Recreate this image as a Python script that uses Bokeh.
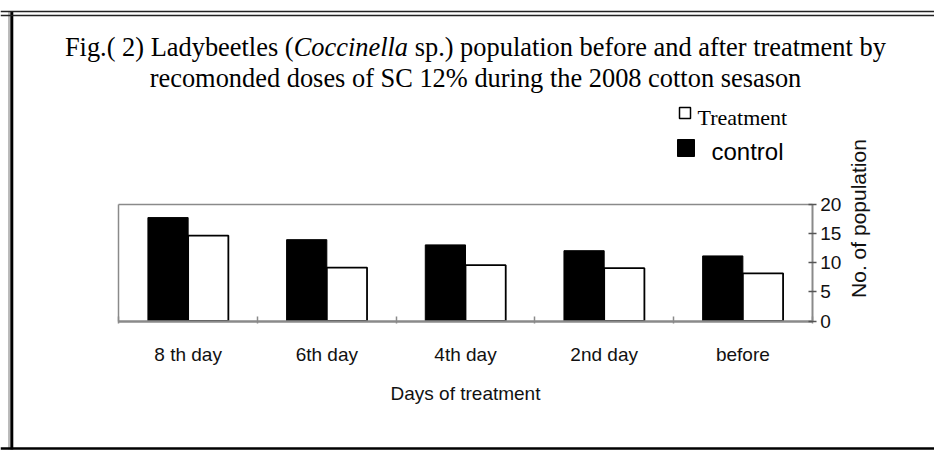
import math
from bokeh.plotting import figure
from bokeh.models import Range1d, LinearAxis, FixedTicker, Label, Span
from bokeh.embed import file_html
from bokeh.resources import INLINE

# ---------------- data ----------------
categories = ["8 th day", "6th day", "4th day", "2nd day", "before"]
control = [17.8, 14.0, 13.1, 12.1, 11.2]
treatment = [14.7, 9.2, 9.6, 9.1, 8.2]
y_ticks = [0, 5, 10, 15, 20]

title1_a = "Fig.( 2) Ladybeetles ("
title1_b = "Coccinella"
title1_c = " sp.) population before and after treatment by"
title2 = "recomonded doses of SC 12% during the 2008 cotton sesason"
x_title = "Days of treatment"
y_title = "No. of population"
legend_labels = ["Treatment", "control"]

# ---------------- geometry (page pixels) ----------------
W, H = 934, 450
OX, OY = 0, 0
PL, PR, PT, PB = 118.3, 811.7, 204.3, 320.5

n = len(categories)
ymax = y_ticks[-1]
xu = (PR - PL) / n          # px per category
yu = (PB - PT) / ymax       # px per unit
x_start = -(PL - OX) / xu
x_end = x_start + W / xu
y_end = ymax + (PT - OY) / yu
y_start = y_end - H / yu


def dx(px):
    return x_start + (px - OX) / xu


def dy(py):
    return y_end - (py - OY) / yu


def sx(px):
    return px - OX


def sy(py):
    return OY + H - py


# Times metrics (per 1000 em) for placing the mixed-style title
ROMAN = {' ': 250, '(': 333, ')': 333, '.': 250, '%': 833, '0': 500, '1': 500,
         '2': 500, '8': 500, 'F': 556, 'L': 611, 'S': 556, 'C': 667, 'a': 444,
         'b': 500, 'c': 444, 'd': 500, 'e': 444, 'f': 333, 'g': 500, 'h': 500,
         'i': 278, 'l': 278, 'm': 778, 'n': 500, 'o': 500, 'p': 500, 'r': 333,
         's': 389, 't': 278, 'u': 500, 'y': 500}
ITALIC = {'C': 667, 'o': 500, 'c': 444, 'i': 278, 'n': 500, 'e': 444, 'l': 278, 'a': 500}


def tw(s, table, size):
    return sum(table.get(ch, 500) for ch in s) * size / 1000.0


p = figure(width=W, height=H, x_range=Range1d(x_start, x_end),
           y_range=Range1d(y_start, y_end), output_backend="svg",
           toolbar_location=None, x_axis_location=None, y_axis_location=None,
           min_border=0, title=None)
p.xgrid.visible = False
p.ygrid.visible = False
p.outline_line_color = None
p.background_fill_color = "white"
p.border_fill_color = "white"

AX = "#8a8a8a"

# bars
xs = [i + 0.5 for i in range(n)]
bw = 0.29
p.vbar(x=[x - bw / 2 for x in xs], top=control, bottom=0, width=bw,
       fill_color="black", line_color="black", line_width=1)
p.vbar(x=[x + bw / 2 for x in xs], top=treatment, bottom=0, width=bw,
       fill_color="white", line_color="black", line_width=1.8)

# frame lines (left & top) as bare axes
left_line = LinearAxis(fixed_location=0, bounds=(0, ymax), ticker=FixedTicker(ticks=[]),
                       axis_line_color=AX, axis_line_width=1.5,
                       major_tick_line_color=None, minor_tick_line_color=None,
                       major_label_text_color=None)
p.add_layout(left_line, "left")
top_line = LinearAxis(fixed_location=ymax, bounds=(0, n), ticker=FixedTicker(ticks=[]),
                      axis_line_color=AX, axis_line_width=1.5,
                      major_tick_line_color=None, minor_tick_line_color=None,
                      major_label_text_color=None)
p.add_layout(top_line, "above")

# x axis
xaxis = LinearAxis(fixed_location=0, bounds=(0, n),
                   ticker=FixedTicker(ticks=xs, minor_ticks=list(range(n + 1))),
                   major_label_overrides={x: c for x, c in zip(xs, categories)},
                   axis_line_color=AX, axis_line_width=2.5,
                   major_tick_in=0, major_tick_out=0,
                   minor_tick_in=5, minor_tick_out=2, minor_tick_line_color=AX,
                   minor_tick_line_width=1.5,
                   major_label_standoff=21,
                   major_label_text_font="Liberation Sans",
                   major_label_text_font_size="19px",
                   major_label_text_color="#111111",
                   axis_label=x_title, axis_label_standoff=14,
                   axis_label_text_font="Liberation Sans",
                   axis_label_text_font_size="19px",
                   axis_label_text_font_style="normal",
                   axis_label_text_color="#111111")
p.add_layout(xaxis, "below")

# y axis on the right
yaxis = LinearAxis(fixed_location=n, bounds=(0, ymax),
                   ticker=FixedTicker(ticks=y_ticks, minor_ticks=[]),
                   axis_line_color=AX, axis_line_width=2,
                   major_tick_in=4, major_tick_out=4, major_tick_line_color="#555555",
                   major_tick_line_width=1.5,
                   minor_tick_in=0, minor_tick_out=0,
                   major_label_standoff=4,
                   major_label_text_font="Liberation Sans",
                   major_label_text_font_size="19px",
                   major_label_text_color="#111111")
p.add_layout(yaxis, "right")

# y axis title
p.add_layout(Label(x=sx(858), y=sy(218), x_units="screen", y_units="screen",
                   text=y_title, angle=math.pi / 2, text_align="center",
                   text_baseline="middle", text_font="Liberation Sans",
                   text_font_size="21px", text_color="#111111"))

# title (two lines, mixed italic)
TS = 26.4
cx = 475
wa = tw(title1_a, ROMAN, TS)
wb = tw(title1_b, ITALIC, TS)
wc = tw(title1_c, ROMAN, TS)
x0 = cx - (wa + wb + wc) / 2
lead = len(title1_c) - len(title1_c.lstrip(" "))
base1 = 46
pieces = [(title1_a.rstrip(" "), x0, "normal"),
          (title1_b, x0 + wa, "italic"),
          (title1_c.lstrip(" "), x0 + wa + wb + tw(" " * lead, ROMAN, TS), "normal")]
for txt, xpos, style in pieces:
    p.add_layout(Label(x=sx(xpos), y=sy(base1), x_units="screen", y_units="screen",
                       text=txt, text_align="left", text_baseline="alphabetic",
                       text_font="Liberation Serif", text_font_size=f"{TS}px",
                       text_font_style=style, text_color="black"))
p.add_layout(Label(x=sx(cx), y=sy(77), x_units="screen", y_units="screen",
                   text=title2, text_align="center", text_baseline="alphabetic",
                   text_font="Liberation Serif", text_font_size=f"{TS}px",
                   text_color="black"))

# legend
p.scatter(x=[dx(684.5)], y=[dy(112.5)], marker="square", size=11,
          fill_color="white", line_color="black", line_width=1.5)
p.scatter(x=[dx(685.5)], y=[dy(147.5)], marker="square", size=17,
          fill_color="black", line_color="black")
p.add_layout(Label(x=sx(697), y=sy(117), x_units="screen", y_units="screen",
                   text=legend_labels[0], text_baseline="alphabetic",
                   text_font="Liberation Serif", text_font_size="22px",
                   text_color="black"))
p.add_layout(Label(x=sx(711), y=sy(151), x_units="screen", y_units="screen",
                   text=legend_labels[1], text_baseline="alphabetic",
                   text_font="Liberation Sans", text_font_size="24px",
                   text_color="black"))

# outer border (decoration)
p.segment(x0=[dx(8.5)], y0=[dy(10.5)], x1=[dx(8.5)], y1=[dy(449)],
          line_color="#777777", line_width=1)
p.segment(x0=[dx(11.3)], y0=[dy(10.5)], x1=[dx(11.3)], y1=[dy(449)],
          line_color="black", line_width=3)
p.add_layout(Span(location=dy(11), dimension="width", line_color="#222222", line_width=1.5))
p.add_layout(Span(location=dy(15), dimension="width", line_color="#222222", line_width=1.5))
p.add_layout(Span(location=dy(448), dimension="width", line_color="black", line_width=2.5))

open("out.html", "w").write(file_html(p, INLINE))
